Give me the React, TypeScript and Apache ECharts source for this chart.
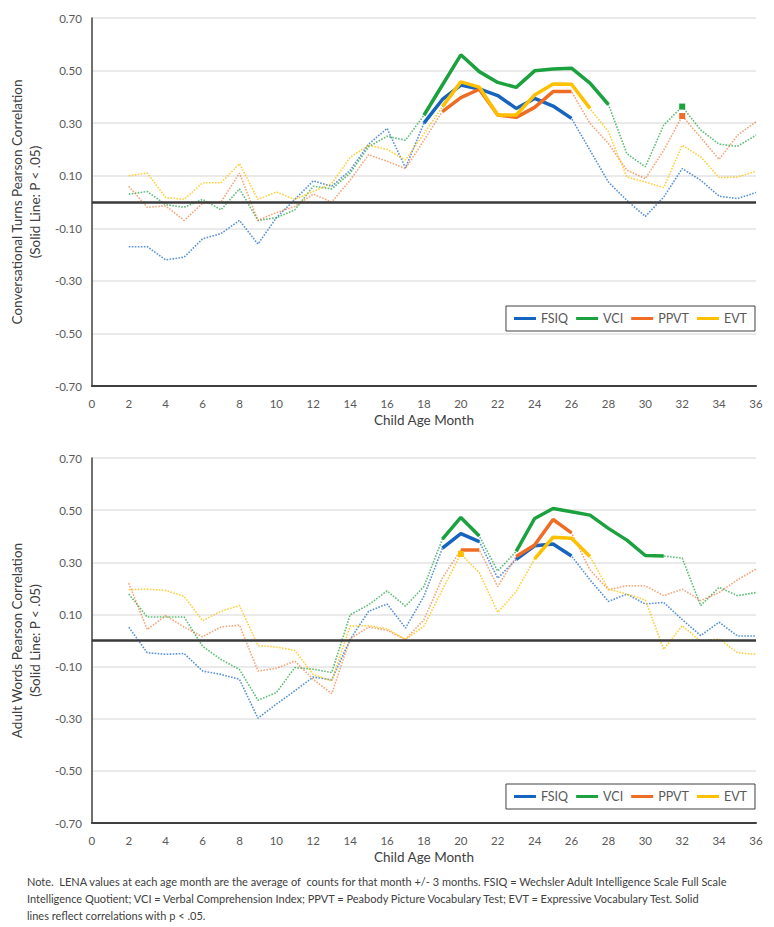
import React, { useEffect, useRef } from "react";
import * as echarts from "echarts";

const months = [2, 3, 4, 5, 6, 7, 8, 9, 10, 11, 12, 13, 14, 15, 16, 17, 18, 19, 20, 21, 22, 23, 24, 25, 26, 27, 28, 29, 30, 31, 32, 33, 34, 35, 36];

// Conversational Turns
const ctFSIQ = [-0.17, -0.17, -0.22, -0.21, -0.14, -0.12, -0.07, -0.16, -0.06, 0.01, 0.08, 0.06, 0.12, 0.22, 0.28, 0.13, 0.30, 0.39, 0.445, 0.43, 0.405, 0.356, 0.394, 0.365, 0.318, 0.197, 0.076, 0.006, -0.055, 0.019, 0.127, 0.083, 0.022, 0.013, 0.036];
const ctVCI = [0.03, 0.04, -0.01, -0.02, 0.01, -0.03, 0.05, -0.07, -0.06, -0.03, 0.06, 0.05, 0.11, 0.21, 0.25, 0.235, 0.33, 0.445, 0.56, 0.496, 0.455, 0.436, 0.499, 0.506, 0.509, 0.452, 0.371, 0.184, 0.134, 0.293, 0.363, 0.274, 0.22, 0.212, 0.254];
const ctPPVT = [0.06, -0.02, -0.015, -0.07, -0.005, 0.0, 0.11, -0.07, -0.04, -0.017, 0.03, 0.0, 0.083, 0.18, 0.155, 0.127, 0.235, 0.344, 0.397, 0.429, 0.331, 0.322, 0.36, 0.42, 0.42, 0.299, 0.223, 0.121, 0.089, 0.197, 0.327, 0.246, 0.162, 0.254, 0.305];
const ctEVT = [0.10, 0.11, 0.017, 0.01, 0.073, 0.073, 0.146, 0.01, 0.038, 0.01, 0.04, 0.07, 0.17, 0.216, 0.2, 0.16, 0.26, 0.363, 0.457, 0.437, 0.331, 0.331, 0.407, 0.449, 0.448, 0.356, 0.267, 0.095, 0.076, 0.055, 0.216, 0.172, 0.093, 0.095, 0.117];

const ctSigFSIQ = [18, 19, 20, 21, 22, 23, 24, 25, 26];
const ctSigVCI = [18, 19, 20, 21, 22, 23, 24, 25, 26, 27, 28, 32];
const ctSigPPVT = [19, 20, 21, 22, 23, 24, 25, 26, 32];
const ctSigEVT = [19, 20, 21, 22, 23, 24, 25, 26, 27];

// Adult Words
const awFSIQ = [0.051, -0.047, -0.053, -0.05, -0.117, -0.13, -0.149, -0.298, -0.244, -0.193, -0.14, -0.151, 0.004, 0.112, 0.14, 0.048, 0.17, 0.354, 0.41, 0.379, 0.239, 0.311, 0.363, 0.37, 0.324, 0.233, 0.15, 0.178, 0.14, 0.146, 0.08, 0.019, 0.07, 0.017, 0.017];
const awVCI = [0.178, 0.09, 0.09, 0.09, -0.022, -0.073, -0.111, -0.229, -0.2, -0.104, -0.11, -0.123, 0.099, 0.137, 0.19, 0.132, 0.207, 0.389, 0.472, 0.401, 0.266, 0.342, 0.468, 0.506, 0.494, 0.481, 0.43, 0.385, 0.326, 0.324, 0.316, 0.134, 0.204, 0.172, 0.184];
const awPPVT = [0.22, 0.042, 0.095, 0.052, 0.014, 0.052, 0.059, -0.117, -0.107, -0.079, -0.149, -0.204, 0.006, 0.052, 0.039, 0.004, 0.08, 0.24, 0.347, 0.347, 0.207, 0.322, 0.366, 0.464, 0.413, 0.271, 0.195, 0.21, 0.21, 0.172, 0.197, 0.153, 0.184, 0.233, 0.274];
const awEVT = [0.195, 0.197, 0.192, 0.169, 0.076, 0.112, 0.134, -0.019, -0.025, -0.038, -0.13, -0.155, 0.055, 0.057, 0.045, 0.004, 0.055, 0.195, 0.332, 0.26, 0.108, 0.188, 0.313, 0.396, 0.392, 0.322, 0.197, 0.178, 0.156, -0.034, 0.057, -0.003, 0.006, -0.047, -0.053];

const awSigFSIQ = [19, 20, 21, 23, 24, 25, 26];
const awSigVCI = [19, 20, 21, 23, 24, 25, 26, 27, 28, 29, 30, 31];
const awSigPPVT = [20, 21, 23, 24, 25, 26];
const awSigEVT = [20, 24, 25, 26, 27];

const measureNames = ["FSIQ", "VCI", "PPVT", "EVT"];
const measureColors = ["#1565C0", "#1BA23F", "#EE6C24", "#FFC000"];
const dottedColors = ["rgba(21,101,192,0.7)", "rgba(27,162,63,0.7)", "rgba(238,108,36,0.6)", "rgba(255,192,0,0.75)"];

const xTicks = { min: 0, max: 36, interval: 2 };
const yTicks = { min: -0.7, max: 0.7, interval: 0.2 };

const yNames = [
  "Conversational Turns Pearson Correlation\n(Solid Line: P < .05)",
  "Adult Words Pearson Correlation\n(Solid Line: P < .05)",
];
const xName = "Child Age Month";
const noteText =
  "Note.  LENA values at each age month are the average of  counts for that month +/- 3 months. FSIQ = Wechsler Adult Intelligence Scale Full Scale\n" +
  "Intelligence Quotient; VCI = Verbal Comprehension Index; PPVT = Peabody Picture Vocabulary Test; EVT = Expressive Vocabulary Test. Solid\n" +
  "lines reflect correlations with p < .05.";

const FONT = "Lato, 'Open Sans', sans-serif";

function buildSeries(gridIndex: number, values: number[][], sigs: number[][]) {
  const out: any[] = [];
  values.forEach((vals, k) => {
    out.push({
      type: "line",
      name: measureNames[k] + " (n.s.)",
      xAxisIndex: gridIndex,
      yAxisIndex: gridIndex,
      data: months.map((m, i) => [m, vals[i]]),
      symbol: "none",
      lineStyle: { color: dottedColors[k], width: 1.6, type: [1.6, 1.4] },
      itemStyle: { color: dottedColors[k] },
      z: 2,
      silent: true,
      markLine:
        k === 0
          ? {
              silent: true,
              symbol: ["none", "none"],
              label: { show: false },
              lineStyle: { color: "#3a3a3a", width: 2.5, type: "solid" },
              data: [{ yAxis: 0 }],
            }
          : undefined,
    });
  });
  values.forEach((vals, k) => {
    const sig = sigs[k];
    out.push({
      type: "line",
      name: measureNames[k],
      xAxisIndex: gridIndex,
      yAxisIndex: gridIndex,
      data: months.map((m, i) => (sig.includes(m) ? [m, vals[i]] : [m, "-"])),
      symbol: "rect",
      symbolSize: (_v: any, p: any) => {
        const m = months[p.dataIndex];
        const isolated = sig.includes(m) && !sig.includes(m - 1) && !sig.includes(m + 1);
        return isolated ? 6 : 0;
      },
      showSymbol: true,
      connectNulls: false,
      lineStyle: { color: measureColors[k], width: 3.5 },
      itemStyle: { color: measureColors[k] },
      z: 3,
      silent: true,
    });
  });
  return out;
}

export default function App() {
  const ref = useRef<HTMLDivElement>(null);
  useEffect(() => {
    if (!ref.current) return;
    const chart = echarts.init(ref.current, undefined, { renderer: "svg" });
    const grids = [
      { left: 86, right: 18, top: 18, height: 368 },
      { left: 86, right: 18, top: 458, height: 365 },
    ];
    const xAxes = grids.map((_, i) => ({
      type: "value",
      gridIndex: i,
      min: xTicks.min,
      max: xTicks.max,
      interval: xTicks.interval,
      axisLine: { show: true, onZero: false, lineStyle: { color: "#404040", width: 2 } },
      axisTick: { show: false },
      splitLine: { show: false },
      axisLabel: { color: "#595959", fontSize: 11.5, fontFamily: FONT, margin: 11 },
      name: xName,
      nameLocation: "middle",
      nameGap: 27,
      nameTextStyle: { color: "#404040", fontSize: 13.5, fontFamily: FONT },
    }));
    const yAxes = grids.map((_, i) => ({
      type: "value",
      gridIndex: i,
      min: yTicks.min,
      max: yTicks.max,
      interval: yTicks.interval,
      axisLine: { show: true, lineStyle: { color: "#404040", width: 1.5 } },
      axisTick: { show: false },
      splitLine: { show: true, lineStyle: { color: "#E3E3E3", width: 1.5 } },
      axisLabel: {
        color: "#595959",
        fontSize: 11.5,
        fontFamily: FONT,
        margin: 10,
        formatter: (v: number) => v.toFixed(2),
      },
      name: yNames[i],
      nameLocation: "middle",
      nameRotate: 90,
      nameGap: 46,
      nameTextStyle: { color: "#404040", fontSize: 13.5, fontFamily: FONT, lineHeight: 18 },
    }));
    const legends = [306, 784].map((top) => ({
      data: measureNames,
      right: 19,
      top,
      orient: "horizontal",
      icon: "rect",
      itemWidth: 22,
      itemHeight: 3,
      itemGap: 8,
      padding: [6, 8, 6, 8],
      borderColor: "#404040",
      borderWidth: 1,
      selectedMode: false,
      textStyle: { color: "#595959", fontSize: 12.5, fontFamily: FONT },
    }));
    const option: any = {
      animation: false,
      backgroundColor: "#ffffff",
      grid: grids,
      xAxis: xAxes,
      yAxis: yAxes,
      legend: legends,
      series: [
        ...buildSeries(0, [ctFSIQ, ctVCI, ctPPVT, ctEVT], [ctSigFSIQ, ctSigVCI, ctSigPPVT, ctSigEVT]),
        ...buildSeries(1, [awFSIQ, awVCI, awPPVT, awEVT], [awSigFSIQ, awSigVCI, awSigPPVT, awSigEVT]),
      ],
      graphic: [
        {
          type: "text",
          left: 27,
          top: 873,
          style: {
            text: noteText,
            font: "11px " + FONT,
            fill: "#404040",
            lineHeight: 17,
          },
        },
      ],
    };
    chart.setOption(option);
    return () => chart.dispose();
  }, []);
  return (
    <div
      ref={ref}
      style={{ position: "absolute", left: 0, top: 0, width: 774, height: 927, background: "#fff" }}
    />
  );
}
